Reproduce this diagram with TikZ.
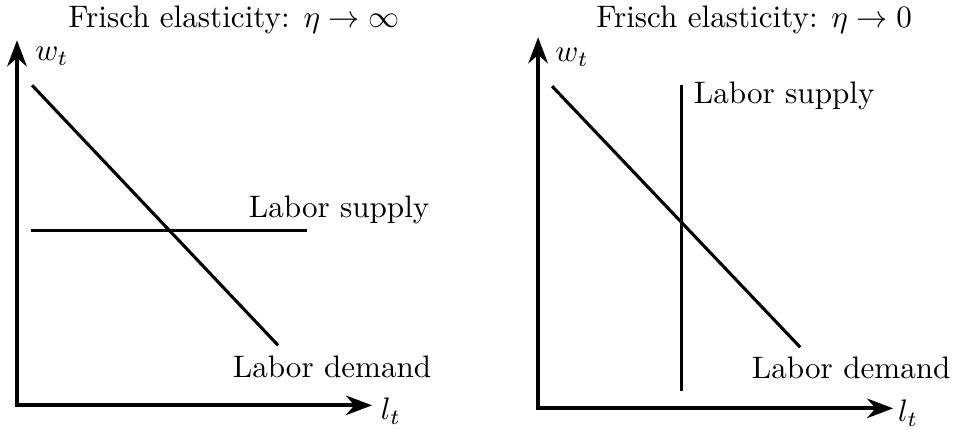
\documentclass[tikz,border=0pt]{standalone}
\usepackage{amsmath,amssymb}
\usepackage{tikz}
\usetikzlibrary{arrows.meta,positioning}
\tikzstyle{axis} = [{Stealth}-{Stealth}, very thick]
\tikzstyle{curve} = [line width=1pt]
\tikzstyle{lbl} = [inner sep=0pt]

\begin{document}
\begin{tikzpicture}
    \useasboundingbox (0,0) rectangle (10.80,4.85);

    % eta -> infinity
    \begin{scope}[shift={(0.192,0.271)}]
      \coordinate (wtipA) at (0,4.124);
      \coordinate (origA) at (0,0);
      \coordinate (ltipA) at (4.011,0);
      \coordinate (dtopA) at (0.170,3.616);
      \coordinate (dbotA) at (2.949,0.678);
      \coordinate (sleftA) at (0.158,1.978);
      \coordinate (srightA) at (3.277,1.978);
      \node [lbl] (titleA) at (2.452,4.355) {Frisch elasticity: $\eta\rightarrow\infty$};
      \node [lbl] (wA) at (0.396,3.944) {$w_t$};
      \node [lbl] (lA) at (4.226,-0.068) {$l_t$};
      \node [lbl] (supplyA) at (3.639,2.204) {Labor supply};
      \node [lbl] (demandA) at (3.559,0.430) {Labor demand};

      \draw [axis] (wtipA) -- (origA) -- (ltipA);
      \draw [curve] (dtopA) -- (dbotA);
      \draw [curve] (sleftA) -- (srightA);
    \end{scope}

    % eta -> 0
    \begin{scope}[shift={(6.079,0.237)}]
      \coordinate (wtipB) at (0,4.192);
      \coordinate (origB) at (0,0);
      \coordinate (ltipB) at (4.011,0);
      \coordinate (dtopB) at (0.158,3.639);
      \coordinate (dbotB) at (2.961,0.690);
      \coordinate (stopB) at (1.616,3.650);
      \coordinate (sbotB) at (1.616,0.192);
      \node [lbl] (titleB) at (2.441,4.389) {Frisch elasticity: $\eta\rightarrow 0$};
      \node [lbl] (wB) at (0.384,3.966) {$w_t$};
      \node [lbl] (lB) at (4.181,-0.056) {$l_t$};
      \node [lbl] (supplyB) at (2.780,3.526) {Labor supply};
      \node [lbl] (demandB) at (3.537,0.452) {Labor demand};

      \draw [axis] (wtipB) -- (origB) -- (ltipB);
      \draw [curve] (dtopB) -- (dbotB);
      \draw [curve] (stopB) -- (sbotB);
    \end{scope}
\end{tikzpicture}
\end{document}
